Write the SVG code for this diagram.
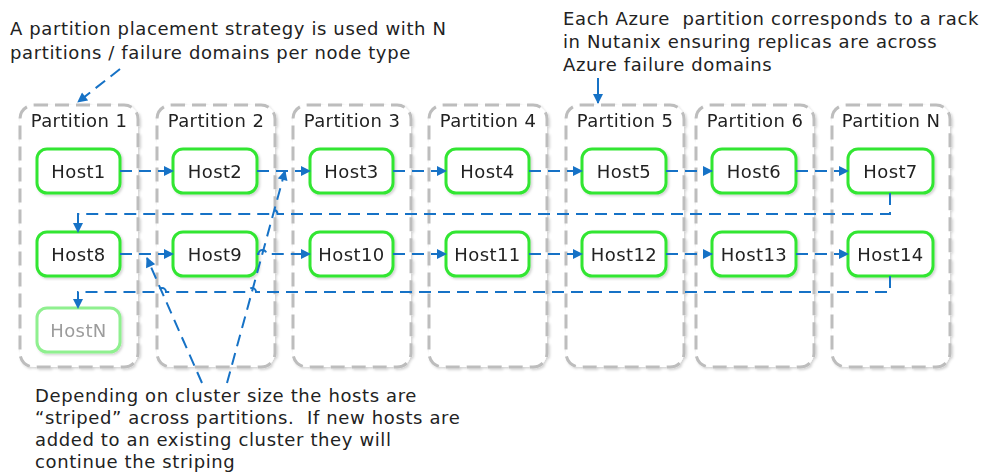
<svg xmlns="http://www.w3.org/2000/svg" width="987" height="475" viewBox="0 0 987 475">
  <style>
    text { font-family: "DejaVu Sans", "Liberation Sans", sans-serif; font-size: 18px; letter-spacing: 0.4px; fill: #222222; }
    .note { white-space: pre; letter-spacing: 0.62px; }
    .plabel { text-anchor: middle; }
    .hlabel { text-anchor: middle; }
    .part { fill: #ffffff; stroke: #bdbdbd; stroke-width: 3; stroke-dasharray: 14 7; }
    .host { fill: #ffffff; stroke: #33e633; stroke-width: 3; }
    .host-dim { fill: #ffffff; stroke: #8ff08f; stroke-width: 3; }
    .dimtext { fill: #9c9c9c; }
    .link { fill: none; stroke: #1672c6; stroke-width: 2; stroke-dasharray: 12 7; }
    .solid { fill: none; stroke: #1672c6; stroke-width: 2; }
  </style>
  <defs>
    <marker id="arrow" viewBox="0 0 10 10" refX="9" refY="5" markerWidth="11" markerHeight="10" markerUnits="userSpaceOnUse" orient="auto">
      <path d="M0,0 L10,5 L0,10 z" fill="#1672c6"/>
    </marker>
    <filter id="shadow" x="-10%" y="-10%" width="120%" height="120%">
      <feDropShadow dx="1.5" dy="1.5" stdDeviation="1" flood-color="#000000" flood-opacity="0.18"/>
    </filter>
  </defs>

  <!-- partitions (failure domains) -->
  <g id="partition-1" filter="url(#shadow)"><rect class="part" x="20" y="105" width="118" height="262" rx="14"/><text class="plabel" x="79" y="127">Partition 1</text></g>
  <g id="partition-2" filter="url(#shadow)"><rect class="part" x="157" y="105" width="118" height="262" rx="14"/><text class="plabel" x="216" y="127">Partition 2</text></g>
  <g id="partition-3" filter="url(#shadow)"><rect class="part" x="293" y="105" width="118" height="262" rx="14"/><text class="plabel" x="352" y="127">Partition 3</text></g>
  <g id="partition-4" filter="url(#shadow)"><rect class="part" x="429" y="105" width="118" height="262" rx="14"/><text class="plabel" x="488" y="127">Partition 4</text></g>
  <g id="partition-5" filter="url(#shadow)"><rect class="part" x="566" y="105" width="118" height="262" rx="14"/><text class="plabel" x="625" y="127">Partition 5</text></g>
  <g id="partition-6" filter="url(#shadow)"><rect class="part" x="696" y="105" width="118" height="262" rx="14"/><text class="plabel" x="755" y="127">Partition 6</text></g>
  <g id="partition-n" filter="url(#shadow)"><rect class="part" x="832" y="105" width="118" height="262" rx="14"/><text class="plabel" x="891" y="127">Partition N</text></g>

  <!-- hosts, row 1 -->
  <g id="host1" filter="url(#shadow)"><rect class="host" x="37" y="149" width="83" height="44" rx="10"/><text class="hlabel" x="78.5" y="177.5">Host1</text></g>
  <g id="host2" filter="url(#shadow)"><rect class="host" x="173" y="149" width="84" height="44" rx="10"/><text class="hlabel" x="215" y="177.5">Host2</text></g>
  <g id="host3" filter="url(#shadow)"><rect class="host" x="310" y="149" width="83" height="44" rx="10"/><text class="hlabel" x="351.5" y="177.5">Host3</text></g>
  <g id="host4" filter="url(#shadow)"><rect class="host" x="446" y="149" width="83" height="44" rx="10"/><text class="hlabel" x="487.5" y="177.5">Host4</text></g>
  <g id="host5" filter="url(#shadow)"><rect class="host" x="582" y="149" width="84" height="44" rx="10"/><text class="hlabel" x="624" y="177.5">Host5</text></g>
  <g id="host6" filter="url(#shadow)"><rect class="host" x="712" y="149" width="84" height="44" rx="10"/><text class="hlabel" x="754" y="177.5">Host6</text></g>
  <g id="host7" filter="url(#shadow)"><rect class="host" x="848" y="149" width="85" height="44" rx="10"/><text class="hlabel" x="890.5" y="177.5">Host7</text></g>

  <!-- hosts, row 2 -->
  <g id="host8" filter="url(#shadow)"><rect class="host" x="37" y="232" width="83" height="44" rx="10"/><text class="hlabel" x="78.5" y="260.5">Host8</text></g>
  <g id="host9" filter="url(#shadow)"><rect class="host" x="173" y="232" width="84" height="44" rx="10"/><text class="hlabel" x="215" y="260.5">Host9</text></g>
  <g id="host10" filter="url(#shadow)"><rect class="host" x="310" y="232" width="83" height="44" rx="10"/><text class="hlabel" x="351.5" y="260.5">Host10</text></g>
  <g id="host11" filter="url(#shadow)"><rect class="host" x="446" y="232" width="83" height="44" rx="10"/><text class="hlabel" x="487.5" y="260.5">Host11</text></g>
  <g id="host12" filter="url(#shadow)"><rect class="host" x="582" y="232" width="84" height="44" rx="10"/><text class="hlabel" x="624" y="260.5">Host12</text></g>
  <g id="host13" filter="url(#shadow)"><rect class="host" x="712" y="232" width="84" height="44" rx="10"/><text class="hlabel" x="754" y="260.5">Host13</text></g>
  <g id="host14" filter="url(#shadow)"><rect class="host" x="848" y="232" width="85" height="44" rx="10"/><text class="hlabel" x="890.5" y="260.5">Host14</text></g>

  <!-- next host to be added -->
  <g id="hostN" filter="url(#shadow)"><rect class="host-dim" x="37" y="308" width="83" height="44" rx="10"/><text class="hlabel dimtext" x="78.5" y="336.5">HostN</text></g>

  <!-- connectors -->
  <g id="connectors">
    <!-- row 1 striping -->
    <path class="link" d="M120,171 H173" marker-end="url(#arrow)"/>
    <path class="link" d="M257,171 H310" marker-end="url(#arrow)"/>
    <path class="link" d="M393,171 H446" marker-end="url(#arrow)"/>
    <path class="link" d="M529,171 H582" marker-end="url(#arrow)"/>
    <path class="link" d="M666,171 H712" marker-end="url(#arrow)"/>
    <path class="link" d="M796,171 H848" marker-end="url(#arrow)"/>
    <!-- wrap from Host7 to Host8 -->
    <path class="link" d="M890,193 V214 H277.5 A4,4 0 0 0 269.5,214 H78 V232" marker-end="url(#arrow)"/>
    <!-- row 2 striping -->
    <path class="link" d="M120,254 H173" marker-end="url(#arrow)"/>
    <path class="link" d="M257,254 H258.5 A4,4 0 0 1 266.5,254 H310" marker-end="url(#arrow)"/>
    <path class="link" d="M393,254 H446" marker-end="url(#arrow)"/>
    <path class="link" d="M529,254 H582" marker-end="url(#arrow)"/>
    <path class="link" d="M666,254 H712" marker-end="url(#arrow)"/>
    <path class="link" d="M796,254 H848" marker-end="url(#arrow)"/>
    <!-- wrap from Host14 to HostN -->
    <path class="link" d="M890,276 V292 H256 A4,4 0 0 0 248,292 H166 A4,4 0 0 0 158,292 H78 V308" marker-end="url(#arrow)"/>
    <!-- callout pointers -->
    <path class="link" d="M120,69 L78,102" marker-end="url(#arrow)"/>
    <path class="solid" d="M598,78 V103" marker-end="url(#arrow)"/>
    <path class="link" d="M202,383 L147,258" marker-end="url(#arrow)"/>
    <path class="link" d="M227,383 L285,171" marker-end="url(#arrow)"/>
  </g>

  <!-- notes -->
  <text class="note" x="10" y="35">A partition placement strategy is used with N</text>
  <text class="note" x="10" y="59">partitions / failure domains per node type</text>

  <text class="note" x="563" y="25">Each Azure  partition corresponds to a rack</text>
  <text class="note" x="563" y="48">in Nutanix ensuring replicas are across</text>
  <text class="note" x="563" y="71">Azure failure domains</text>

  <text class="note" x="35" y="402">Depending on cluster size the hosts are</text>
  <text class="note" x="35" y="424">“striped” across partitions.  If new hosts are</text>
  <text class="note" x="35" y="446">added to an existing cluster they will</text>
  <text class="note" x="35" y="468">continue the striping</text>
</svg>
